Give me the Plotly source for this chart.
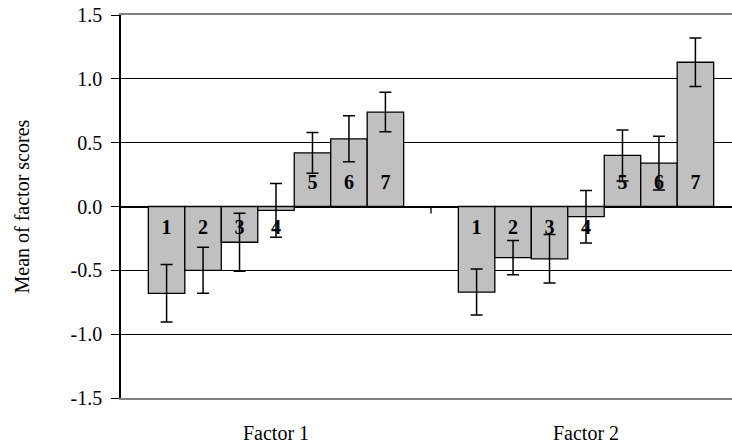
import plotly.graph_objects as go

categories = ["Factor 1", "Factor 2"]
profiles = ["1", "2", "3", "4", "5", "6", "7"]
factor1_mean = [-0.68, -0.50, -0.28, -0.03, 0.42, 0.53, 0.74]
factor1_err = [0.225, 0.18, 0.227, 0.21, 0.16, 0.18, 0.155]
factor2_mean = [-0.67, -0.40, -0.41, -0.08, 0.40, 0.34, 1.13]
factor2_err = [0.18, 0.134, 0.19, 0.206, 0.20, 0.21, 0.19]
y_ticks = [-1.5, -1.0, -0.5, 0.0, 0.5, 1.0, 1.5]
y_tick_text = ["-1.5", "-1.0", "-0.5", "0.0", "0.5", "1.0", "1.5"]

FONT = "Liberation Serif, Times New Roman, serif"
FS = 20
n = len(profiles)
group_width = n / (n + 1.5)  # Excel gap width 150%
bw = group_width / n

xs, ys, errs, labels = [], [], [], []
for g, (means, err) in enumerate([(factor1_mean, factor1_err), (factor2_mean, factor2_err)]):
    for i in range(n):
        xs.append(g + 0.5 + (i - (n - 1) / 2) * bw)
        ys.append(means[i])
        errs.append(err[i])
        labels.append(profiles[i])

label_y = [0.18 if v >= 0 else -0.175 for v in ys]

fig = go.Figure()
fig.add_trace(go.Bar(
    x=xs, y=ys, width=bw,
    marker=dict(color="#C0C0C0", line=dict(color="black", width=1.3)),
    error_y=dict(type="data", array=errs, visible=True, color="black", thickness=1.5, width=6),
    hoverinfo="skip", showlegend=False,
))
fig.add_trace(go.Scatter(
    x=xs, y=label_y, mode="text", text=labels,
    textfont=dict(family=FONT, size=FS, color="black", weight="bold"),
    hoverinfo="skip", showlegend=False,
))

# category divider tick on the zero axis
fig.add_shape(type="line", xref="x", yref="y", x0=1, x1=1, ysizemode="pixel",
              yanchor=0, y0=0, y1=-7, line=dict(color="black", width=1.3))

plot_left, plot_right_px, cat_px = 121, 732, 310
plot_w = plot_right_px - plot_left
xmax = plot_w / cat_px

fig.add_annotation(text="Mean of factor scores", xref="paper", yref="paper",
                   x=(21 - plot_left) / plot_w, y=0.5, xanchor="center", yanchor="middle",
                   textangle=-90, showarrow=False, font=dict(family=FONT, size=FS, color="black"))

fig.update_layout(
    width=732, height=443,
    margin=dict(l=plot_left, r=0, t=15, b=45),
    paper_bgcolor="white", plot_bgcolor="white",
    font=dict(family=FONT, size=FS, color="black"),
    xaxis=dict(range=[0, xmax], tickvals=[0.5, 1.5], ticktext=categories,
               showgrid=False, zeroline=False, showline=True, linecolor="#808080",
               linewidth=1.5, mirror=True, ticks="outside", ticklen=16,
               tickcolor="rgba(0,0,0,0)", tickfont=dict(family=FONT, size=FS),
               automargin=False),
    yaxis=dict(range=[-1.5, 1.5], tickvals=y_ticks, ticktext=y_tick_text,
               showgrid=True, gridcolor="black", gridwidth=1,
               zeroline=True, zerolinecolor="black", zerolinewidth=1.5,
               showline=True, linecolor="black", linewidth=1.5,
               ticks="outside", ticklen=8, tickcolor="black", tickwidth=1.3,
               ticklabelstandoff=5,
               tickfont=dict(family=FONT, size=FS), automargin=False),
)

fig.write_html("out.html", config={"displayModeBar": False},
               post_script="document.body.style.margin='0';document.body.style.padding='0';")
